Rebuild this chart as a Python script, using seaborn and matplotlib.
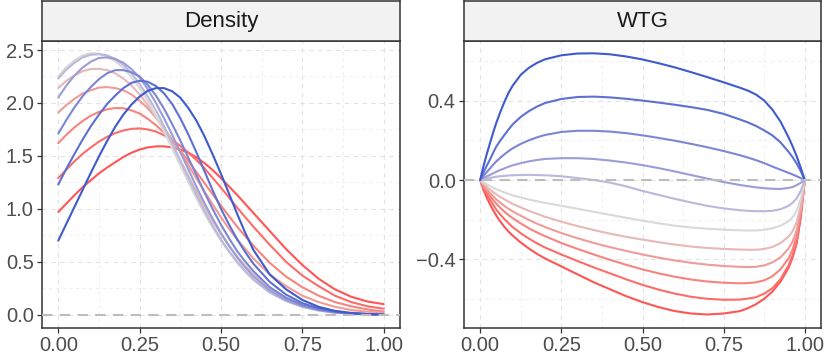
import numpy as np
import pandas as pd
import seaborn as sns
import matplotlib.pyplot as plt

# --- values ---
dens_x = [0.000, 0.025, 0.050, 0.075, 0.100, 0.125, 0.150, 0.175, 0.200,
          0.225, 0.250, 0.275, 0.300, 0.325, 0.350, 0.375, 0.400, 0.425,
          0.450, 0.475, 0.500, 0.525, 0.550, 0.575, 0.600,
          0.65, 0.70, 0.75, 0.80, 0.85, 0.90, 0.95, 1.00]

dens_r1 = [0.97, 1.05, 1.13, 1.205, 1.27, 1.335, 1.39, 1.44, 1.49, 1.53, 1.56,
           1.58, 1.59, 1.59, 1.58, 1.56, 1.53, 1.485, 1.43, 1.365, 1.29, 1.21,
           1.13, 1.045, 0.96, 0.79, 0.62, 0.47, 0.34, 0.24, 0.17, 0.125, 0.10]
dens_r2 = [1.29, 1.37, 1.45, 1.52, 1.58, 1.635, 1.68, 1.715, 1.74, 1.755, 1.76,
           1.75, 1.73, 1.695, 1.65, 1.595, 1.53, 1.46, 1.38, 1.29, 1.20, 1.105,
           1.01, 0.92, 0.83, 0.66, 0.50, 0.37, 0.27, 0.18, 0.12, 0.08, 0.057]
dens_r3 = [1.62, 1.70, 1.77, 1.83, 1.88, 1.915, 1.94, 1.952, 1.95, 1.93, 1.90,
           1.85, 1.79, 1.72, 1.64, 1.55, 1.45, 1.345, 1.24, 1.135, 1.03, 0.93,
           0.83, 0.74, 0.65, 0.49, 0.36, 0.26, 0.18, 0.12, 0.08, 0.05, 0.03]
dens_r4 = [1.91, 1.98, 2.04, 2.09, 2.12, 2.145, 2.15, 2.14, 2.12, 2.08, 2.02,
           1.95, 1.86, 1.765, 1.655, 1.535, 1.41, 1.285, 1.16, 1.04, 0.92, 0.81,
           0.71, 0.62, 0.53, 0.38, 0.27, 0.18, 0.12, 0.075, 0.045, 0.028, 0.018]
dens_r5 = [2.14, 2.21, 2.26, 2.30, 2.32, 2.322, 2.31, 2.28, 2.23, 2.165, 2.08,
           1.98, 1.87, 1.74, 1.60, 1.455, 1.31, 1.16, 1.02, 0.885, 0.76, 0.65,
           0.55, 0.46, 0.38, 0.25, 0.16, 0.10, 0.06, 0.035, 0.02, 0.012, 0.008]
dens_mid = [2.25, 2.34, 2.40, 2.45, 2.47, 2.465, 2.44, 2.395, 2.33, 2.245, 2.14,
            2.02, 1.88, 1.73, 1.57, 1.41, 1.25, 1.095, 0.95, 0.82, 0.70, 0.59,
            0.49, 0.405, 0.33, 0.21, 0.13, 0.075, 0.04, 0.02, 0.009, 0.004, 0.002]
dens_b5 = [2.23, 2.315, 2.38, 2.43, 2.455, 2.46, 2.45, 2.415, 2.36, 2.28, 2.18,
           2.06, 1.93, 1.78, 1.62, 1.455, 1.29, 1.13, 0.98, 0.84, 0.71, 0.60,
           0.50, 0.41, 0.33, 0.21, 0.13, 0.075, 0.04, 0.02, 0.009, 0.004, 0.002]
dens_b4 = [2.05, 2.165, 2.26, 2.335, 2.39, 2.425, 2.43, 2.415, 2.38, 2.32, 2.24,
           2.13, 2.00, 1.855, 1.70, 1.535, 1.37, 1.205, 1.05, 0.905, 0.77, 0.65,
           0.54, 0.445, 0.36, 0.23, 0.14, 0.08, 0.045, 0.022, 0.01, 0.004, 0.002]
dens_b3 = [1.71, 1.84, 1.96, 2.065, 2.15, 2.225, 2.28, 2.31, 2.31, 2.29, 2.25,
           2.17, 2.07, 1.945, 1.80, 1.645, 1.48, 1.315, 1.15, 0.995, 0.85, 0.72,
           0.60, 0.50, 0.41, 0.26, 0.16, 0.09, 0.05, 0.025, 0.012, 0.005, 0.002]
dens_b2 = [1.23, 1.38, 1.52, 1.655, 1.78, 1.89, 1.99, 2.07, 2.14, 2.19, 2.21,
           2.20, 2.16, 2.09, 1.99, 1.855, 1.70, 1.53, 1.35, 1.17, 1.00, 0.85,
           0.71, 0.59, 0.48, 0.31, 0.19, 0.11, 0.06, 0.03, 0.014, 0.006, 0.003]
dens_b1 = [0.70, 0.86, 1.02, 1.18, 1.34, 1.495, 1.64, 1.775, 1.89, 1.985, 2.06,
           2.115, 2.14, 2.14, 2.11, 2.05, 1.95, 1.83, 1.68, 1.51, 1.33, 1.14,
           0.95, 0.77, 0.61, 0.38, 0.24, 0.14, 0.075, 0.037, 0.016, 0.006, 0.002]

wtg_x = [0.0, 0.005, 0.01, 0.02, 0.03, 0.04, 0.05, 0.0625, 0.075, 0.0875,
         0.1, 0.125, 0.15, 0.175, 0.2, 0.25, 0.3, 0.35, 0.4, 0.45, 0.5,
         0.55, 0.6, 0.65, 0.7, 0.75, 0.8, 0.825, 0.85, 0.875, 0.9, 0.925,
         0.95, 0.9625, 0.975, 0.9875, 1.0]

wtg_r1 = [0, -0.025, -0.05, -0.088, -0.122, -0.153, -0.18, -0.21, -0.237, -0.26,
          -0.28, -0.315, -0.345, -0.372, -0.395, -0.435, -0.475, -0.515, -0.55,
          -0.585, -0.615, -0.64, -0.66, -0.672, -0.677, -0.672, -0.66, -0.645,
          -0.625, -0.598, -0.562, -0.512, -0.442, -0.39, -0.32, -0.19, 0]
wtg_r2 = [0, -0.02, -0.04, -0.071, -0.099, -0.125, -0.15, -0.175, -0.198, -0.218,
          -0.237, -0.268, -0.295, -0.319, -0.34, -0.375, -0.408, -0.44, -0.47,
          -0.5, -0.528, -0.552, -0.572, -0.588, -0.598, -0.603, -0.602, -0.597,
          -0.59, -0.572, -0.545, -0.50, -0.43, -0.38, -0.31, -0.18, 0]
wtg_r3 = [0, -0.016, -0.032, -0.057, -0.08, -0.1, -0.12, -0.141, -0.16, -0.177,
          -0.192, -0.219, -0.243, -0.264, -0.283, -0.317, -0.347, -0.375, -0.402,
          -0.427, -0.45, -0.47, -0.487, -0.501, -0.511, -0.517, -0.52, -0.519,
          -0.515, -0.505, -0.485, -0.45, -0.395, -0.35, -0.285, -0.165, 0]
wtg_r4 = [0, -0.013, -0.026, -0.046, -0.065, -0.082, -0.098, -0.115, -0.131, -0.145,
          -0.158, -0.18, -0.201, -0.22, -0.237, -0.267, -0.293, -0.317, -0.338,
          -0.357, -0.375, -0.391, -0.405, -0.417, -0.426, -0.433, -0.437, -0.438,
          -0.437, -0.43, -0.415, -0.39, -0.345, -0.31, -0.255, -0.15, 0]
wtg_r5 = [0, -0.01, -0.019, -0.034, -0.048, -0.061, -0.073, -0.086, -0.098, -0.109,
          -0.12, -0.138, -0.155, -0.17, -0.185, -0.21, -0.232, -0.252, -0.27,
          -0.286, -0.30, -0.313, -0.325, -0.335, -0.342, -0.347, -0.35, -0.351,
          -0.351, -0.347, -0.337, -0.318, -0.285, -0.258, -0.212, -0.13, 0]
wtg_mid = [0, -0.006, -0.012, -0.021, -0.03, -0.039, -0.047, -0.055, -0.063, -0.07,
           -0.077, -0.088, -0.098, -0.107, -0.115, -0.13, -0.145, -0.16, -0.175,
           -0.19, -0.205, -0.218, -0.23, -0.239, -0.245, -0.25, -0.253, -0.254,
           -0.254, -0.25, -0.243, -0.23, -0.207, -0.188, -0.155, -0.095, 0]
wtg_b5 = [0, 0.003, 0.005, 0.008, 0.011, 0.014, 0.017, 0.019, 0.021, 0.023,
          0.024, 0.025, 0.026, 0.025, 0.024, 0.019, 0.01, 0.0, -0.013,
          -0.032, -0.055, -0.075, -0.095, -0.113, -0.13, -0.143, -0.152, -0.155,
          -0.157, -0.157, -0.155, -0.147, -0.13, -0.115, -0.092, -0.055, 0]
wtg_b4 = [0, 0.005, 0.01, 0.018, 0.026, 0.034, 0.042, 0.051, 0.059, 0.067,
          0.074, 0.085, 0.094, 0.101, 0.106, 0.11, 0.11, 0.106, 0.098,
          0.088, 0.075, 0.06, 0.043, 0.025, 0.007, -0.01, -0.025, -0.031,
          -0.037, -0.041, -0.044, -0.045, -0.04, -0.035, -0.026, -0.014, 0]
wtg_b3 = [0, 0.01, 0.02, 0.04, 0.058, 0.077, 0.095, 0.113, 0.13, 0.146,
          0.16, 0.182, 0.20, 0.215, 0.227, 0.242, 0.248, 0.248, 0.244,
          0.236, 0.225, 0.212, 0.198, 0.182, 0.165, 0.146, 0.125, 0.113,
          0.10, 0.085, 0.068, 0.052, 0.036, 0.028, 0.019, 0.01, 0]
wtg_b2 = [0, 0.02, 0.038, 0.072, 0.103, 0.138, 0.17, 0.20, 0.228, 0.255,
          0.28, 0.318, 0.347, 0.37, 0.388, 0.408, 0.418, 0.42, 0.416,
          0.409, 0.40, 0.39, 0.379, 0.367, 0.353, 0.333, 0.305, 0.29,
          0.272, 0.25, 0.225, 0.19, 0.142, 0.115, 0.083, 0.045, 0]
wtg_b1 = [0, 0.036, 0.07, 0.13, 0.185, 0.24, 0.29, 0.345, 0.395, 0.44,
          0.475, 0.53, 0.565, 0.59, 0.608, 0.628, 0.637, 0.638, 0.633,
          0.622, 0.607, 0.588, 0.567, 0.543, 0.518, 0.492, 0.465, 0.45,
          0.43, 0.40, 0.355, 0.295, 0.215, 0.17, 0.12, 0.062, 0]

curve_names = ['r1', 'r2', 'r3', 'r4', 'r5', 'mid', 'b5', 'b4', 'b3', 'b2', 'b1']
curve_colors = ['#FF5555', '#FC6D6A', '#F6847F', '#EF9C98', '#E6B8B6', '#D9D9D9',
                '#B9B9DC', '#9A9DD8', '#7C86D4', '#5E71D1', '#3F5ACD']

dens_curves = [dens_r1, dens_r2, dens_r3, dens_r4, dens_r5, dens_mid,
               dens_b5, dens_b4, dens_b3, dens_b2, dens_b1]
wtg_curves = [wtg_r1, wtg_r2, wtg_r3, wtg_r4, wtg_r5, wtg_mid,
              wtg_b5, wtg_b4, wtg_b3, wtg_b2, wtg_b1]


def long_frame(xs, curves):
    return pd.DataFrame({
        'x': np.tile(xs, len(curves)),
        'y': np.concatenate(curves),
        'curve': np.repeat(curve_names, len(xs)),
    })


dens_df = long_frame(dens_x, dens_curves)
wtg_df = long_frame(wtg_x, wtg_curves)

sns.set_theme(style='white')
plt.rcParams['font.family'] = ['Liberation Sans', 'DejaVu Sans']

W, H = 830, 361
fig = plt.figure(figsize=(W / 100, H / 100), dpi=100)

DARK = '#333333'
TXT = '#4D4D4D'


def panel(x0, x1, title, df, ylim, yticks, ylabels, yminor):
    ax = fig.add_axes([x0 / W, (H - 328) / H, (x1 - x0) / W, 287 / H])
    sns.lineplot(data=df, x='x', y='y', hue='curve', hue_order=curve_names,
                 palette=curve_colors, estimator=None, legend=False,
                 linewidth=1.5, ax=ax)
    for line in ax.lines:
        line.set_solid_joinstyle('round')
    ax.axhline(0, color='#BDBDBD', lw=1.5, ls=(0, (5, 3.5)), zorder=5)
    ax.set_xlim(-0.05, 1.05)
    ax.set_ylim(*ylim)
    ax.set_xticks([0, 0.25, 0.5, 0.75, 1.0])
    ax.set_xticklabels(['0.00', '0.25', '0.50', '0.75', '1.00'])
    ax.set_xticks([0.125, 0.375, 0.625, 0.875], minor=True)
    ax.set_yticks(yticks)
    ax.set_yticklabels(ylabels)
    ax.set_yticks(yminor, minor=True)
    ax.grid(which='major', color='#E2E2E2', ls=(0, (4, 4)), lw=0.8)
    ax.grid(which='minor', color='#EDEDED', ls=(0, (4, 4)), lw=0.6)
    ax.set_axisbelow(True)
    ax.tick_params(which='minor', length=0)
    ax.tick_params(which='major', length=3.5, width=0.9, color=DARK,
                   labelcolor=TXT, labelsize=14.5, pad=2.5,
                   bottom=True, left=True)
    for sp in ax.spines.values():
        sp.set_color(DARK)
        sp.set_linewidth(1.1)
    ax.set_xlabel('')
    ax.set_ylabel('')

    # facet strip
    strip = fig.add_axes([x0 / W, (H - 41) / H, (x1 - x0) / W, 40 / H])
    strip.set_facecolor('#F2F2F2')
    strip.set_xticks([])
    strip.set_yticks([])
    for sp in strip.spines.values():
        sp.set_color(DARK)
        sp.set_linewidth(1.1)
    strip.text(0.5, 0.48, title, ha='center', va='center', fontsize=16,
               color='#1A1A1A', transform=strip.transAxes)
    return ax


panel(42, 400, 'Density', dens_df, (-0.125, 2.585),
      [0, 0.5, 1.0, 1.5, 2.0, 2.5], ['0.0', '0.5', '1.0', '1.5', '2.0', '2.5'],
      [0.25, 0.75, 1.25, 1.75, 2.25])
panel(464, 821, 'WTG', wtg_df, (-0.745, 0.70),
      [-0.4, 0.0, 0.4], ['\u22120.4', '0.0', '0.4'],
      [-0.6, -0.2, 0.2, 0.6])

fig.savefig('out.png', dpi=100)
